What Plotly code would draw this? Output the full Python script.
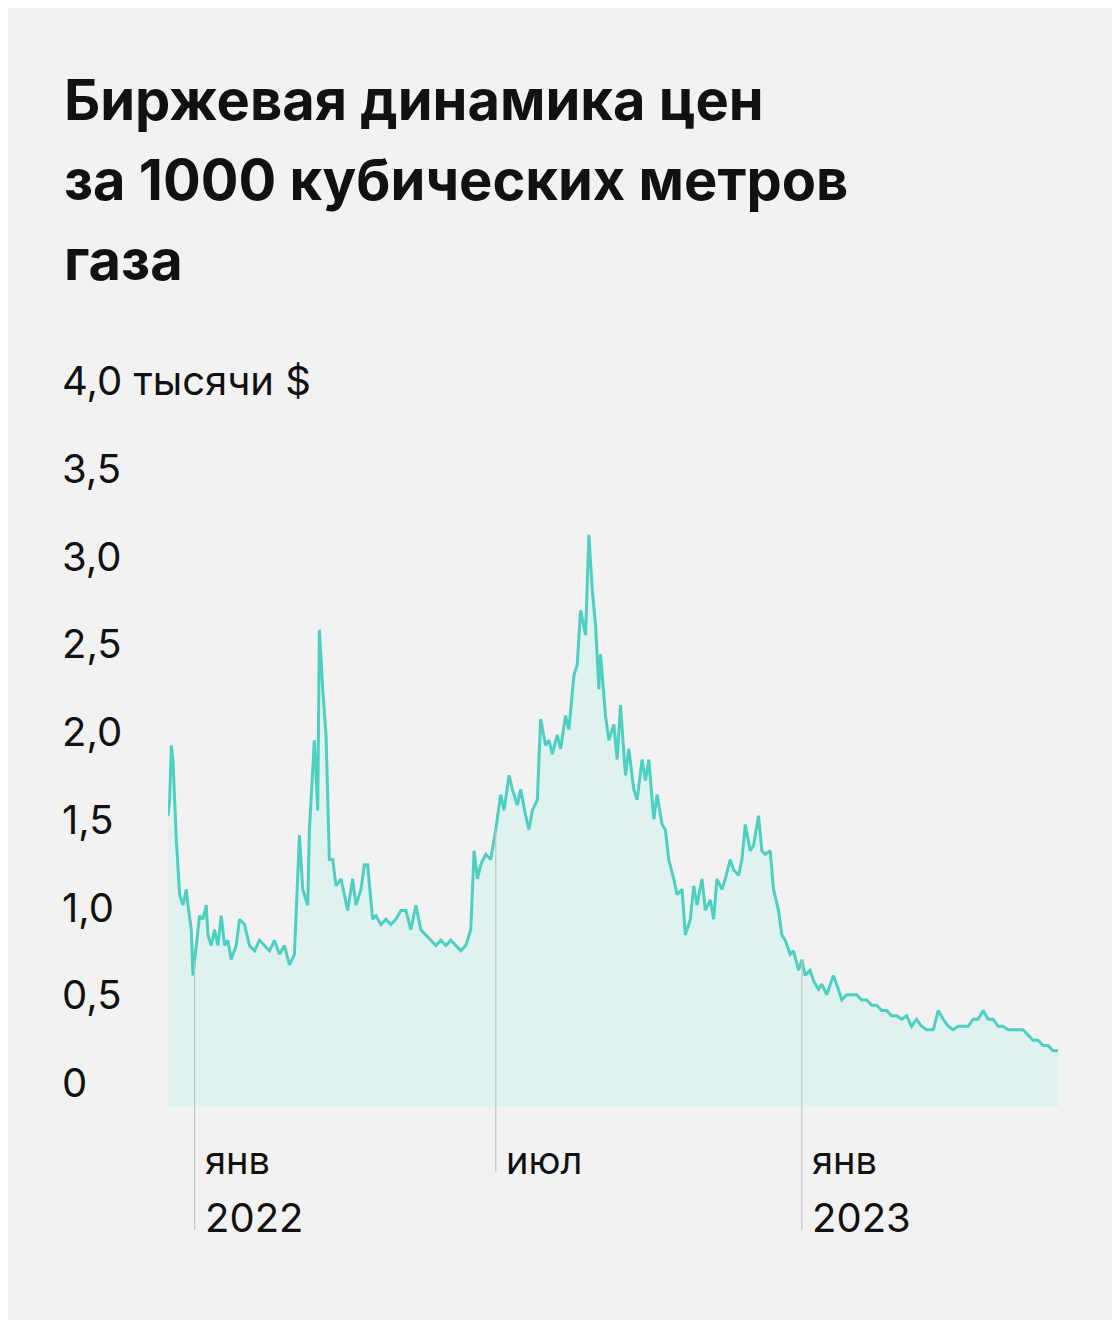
import numpy as np
import pandas as pd
import plotly.graph_objects as go

days = [-16,-15,-14,-13,-11,-9,-7,-5,-4,-2,-1,1,3,5,7,8,10,12,14,16,18,20,22,25,27,30,33,36,39,42,45,48,51,54,57,60,63,65,68,69,72,74,75,77,79,81,83,85,88,90,92,95,97,100,102,104,107,109,112,115,118,121,124,127,130,133,136,139,142,145,148,151,154,157,160,163,166,168,170,172,175,178,181,184,186,189,191,194,196,199,201,203,206,208,211,213,215,218,220,223,225,228,230,232,235,237,239,241,243,244,247,249,252,254,256,259,261,264,266,269,271,273,276,278,281,283,285,288,290,293,295,298,300,302,305,307,310,312,314,317,319,322,324,327,329,331,334,336,339,341,343,346,348,351,353,355,358,360,363,365,367,370,372,375,377,380,382,384,387,389,392,395,398,401,404,407,410,413,416,419,422,425,428,431,434,437,440,444,447,450,453,456,459,462,465,468,471,474,477,480,483,486,489,492,495,498,501,504,507,510,513,516,519]
prices = [1.66,1.75,2.06,1.98,1.52,1.21,1.15,1.24,1.15,1.01,0.75,0.92,1.09,1.07,1.15,0.98,0.92,1.01,0.92,1.09,0.92,0.95,0.84,0.92,1.07,1.04,0.92,0.89,0.95,0.92,0.89,0.95,0.87,0.92,0.81,0.87,1.55,1.24,1.15,1.58,2.09,1.69,2.72,2.38,2.12,1.41,1.41,1.26,1.30,1.21,1.12,1.30,1.15,1.24,1.38,1.38,1.07,1.09,1.04,1.07,1.04,1.07,1.12,1.12,1.01,1.15,1.01,0.98,0.95,0.92,0.95,0.92,0.95,0.92,0.89,0.92,1.01,1.46,1.30,1.38,1.44,1.41,1.58,1.78,1.69,1.89,1.81,1.72,1.81,1.66,1.58,1.69,1.75,2.21,2.06,2.09,2.01,2.12,2.04,2.23,2.15,2.46,2.52,2.83,2.69,3.26,2.95,2.75,2.38,2.58,2.23,2.09,2.18,1.98,2.29,1.89,2.04,1.81,1.75,1.98,1.86,1.98,1.64,1.78,1.61,1.58,1.41,1.30,1.21,1.24,0.98,1.07,1.26,1.15,1.30,1.12,1.18,1.07,1.30,1.24,1.30,1.41,1.35,1.32,1.41,1.61,1.46,1.49,1.66,1.46,1.44,1.46,1.24,1.12,0.98,0.95,0.87,0.89,0.78,0.84,0.75,0.78,0.72,0.67,0.70,0.64,0.70,0.75,0.67,0.61,0.64,0.64,0.64,0.61,0.61,0.58,0.58,0.55,0.55,0.52,0.52,0.50,0.52,0.46,0.50,0.46,0.44,0.44,0.55,0.50,0.46,0.44,0.46,0.46,0.46,0.50,0.50,0.55,0.50,0.50,0.46,0.46,0.44,0.44,0.44,0.44,0.41,0.38,0.38,0.35,0.35,0.32,0.32]
y_ticks = [0, 0.5, 1.0, 1.5, 2.0, 2.5, 3.0, 3.5, 4.0]
y_labels = ["0", "0,5", "1,0", "1,5", "2,0", "2,5", "3,0", "3,5", "4,0 тысячи $"]
x_ticks = ["2022-01-01", "2022-07-01", "2023-01-01"]
x_labels = [("янв", "2022"), ("июл", ""), ("янв", "2023")]
title_lines = ["Биржевая динамика цен", "за 1000 кубических метров", "газа"]

YMAX = 4.0
PH = 702.0
base = pd.Timestamp("2022-01-01")
dates = [base + pd.Timedelta(days=d) for d in days]

fig = go.Figure(go.Scatter(x=dates, y=prices, mode="lines",
                           line=dict(color="#4dd0c2", width=3),
                           fill="tozeroy", fillcolor="#e0f2ef", hoverinfo="skip"))

for v, t in zip(y_ticks, y_labels):
    fig.add_annotation(x=-108/890, xref="paper", y=v / YMAX, yref="paper", text=t, showarrow=False,
                       xanchor="left", yanchor="bottom", yshift=-2,
                       font=dict(size=40, color="#111", family="Inter"))

day_arr = np.array(days)
for xt, (l1, l2) in zip(x_ticks, x_labels):
    d = (pd.Timestamp(xt) - base).days
    top = float(np.interp(d, day_arr, prices))
    fig.add_shape(type="line", x0=xt, x1=xt, y0=top / YMAX, y1=(-123 if l2 else -65) / PH,
                  xref="x", yref="paper", line=dict(color="#c4c4c4", width=1.2))
    fig.add_annotation(x=xt, y=-53 / PH, xref="x", yref="paper", text=l1, showarrow=False,
                       xanchor="left", yanchor="middle", xshift=8,
                       font=dict(size=38, color="#111", family="Inter"))
    if l2:
        fig.add_annotation(x=xt, y=-110 / PH, xref="x", yref="paper", text=l2, showarrow=False,
                           xanchor="left", yanchor="middle", xshift=8,
                           font=dict(size=40, color="#111", family="Inter"))

for i, t in enumerate(title_lines):
    fig.add_annotation(x=-106/890, xref="paper", y=(1007 - 80 * i) / PH, yref="paper",
                       text=f"<b>{t}</b>", showarrow=False, xanchor="left", yanchor="middle",
                       font=dict(size=56, color="#111", family="Inter"))

fig.update_layout(
    width=1104, height=1312, margin=dict(l=160, r=54, t=397, b=213),
    paper_bgcolor="#f2f2f2", plot_bgcolor="rgba(0,0,0,0)", showlegend=False,
    xaxis=dict(range=[dates[0], dates[-1]], visible=False),
    yaxis=dict(range=[0, YMAX], visible=False),
)
fig.write_html("out.html")
